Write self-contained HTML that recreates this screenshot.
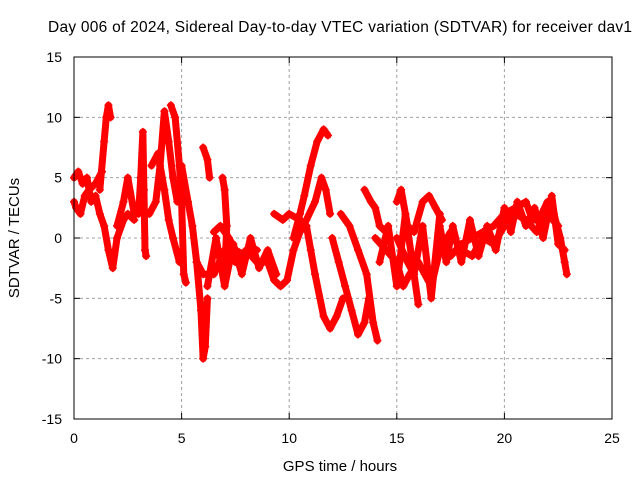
<!DOCTYPE html>
<html><head><meta charset="utf-8"><style>
body{margin:0;background:#fff;}
svg{display:block;font-family:"Liberation Sans",sans-serif;}
</style></head><body>
<svg id="chart" width="640" height="480">
<text x="340" y="32" font-size="15.5" text-anchor="middle" textLength="584">Day 006 of 2024, Sidereal Day-to-day VTEC variation (SDTVAR) for receiver dav1</text>
<text x="340" y="471" font-size="15" text-anchor="middle">GPS time / hours</text>
<text transform="translate(19,238) rotate(-90)" font-size="15" text-anchor="middle">SDTVAR / TECUs</text>
<g id="grid"></g><g id="marks"></g>
<rect x="74" y="57" width="538" height="362" fill="none" stroke="#000" stroke-width="1"/>
</svg>
<script>
const xTicks=[0,5,10,15,20,25];
const yTicks=[-15,-10,-5,0,5,10,15];
const series=[
[[0,5],[0.2,5.5],[0.4,4.5],[0.6,5],[0.8,3],[1.0,3.5],[1.2,2],[1.4,1],[1.6,-1],[1.8,-2.5],[2.0,0],[2.3,1.5],[2.5,2],[2.8,1.5]],
[[0,3],[0.1,2.5],[0.3,2],[0.5,3.5],[0.7,4],[1,4.5],[1.3,5.5]],
[[1.2,4],[1.4,8],[1.5,10],[1.6,11],[1.7,10]],
[[2.0,1],[2.3,3],[2.5,5],[2.8,2],[3.0,2],[3.1,5],[3.2,8.8],[3.25,4],[3.3,-1],[3.35,-1.5]],
[[3.5,2],[3.8,3],[4.0,6],[4.2,10.5],[4.4,8],[4.6,5],[4.8,3]],
[[4.5,11],[4.7,10],[4.9,6],[5.0,3],[5.1,-3],[5.2,-3.7]],
[[3.6,6],[3.9,7],[4.2,4],[4.4,1.5],[4.6,0],[4.9,-2]],
[[5.0,6],[5.3,3],[5.5,1],[5.7,-2],[5.9,-6],[6.0,-10],[6.1,-9],[6.2,-5]],
[[6.0,7.5],[6.2,6.5],[6.3,5]],
[[6.9,5],[7.0,4],[7.1,1],[7.0,-3]],
[[5.7,-2],[6.0,-3],[6.5,-3],[7.0,-1],[7.5,-2],[8.0,-1],[8.5,-2],[9.0,-2],[9.3,-3.5],[9.6,-4],[9.9,-3.5],[10.2,-1],[10.5,0.5],[10.8,1.5],[11.2,3],[11.5,5],[11.7,4],[11.9,2]],
[[6.5,0.5],[6.8,1],[7.2,0],[7.5,-1],[8,-1.5],[8.5,-1]],
[[6.2,-4],[6.6,0],[7,-4],[7.4,-0.5],[7.8,-3],[8.2,0],[8.6,-2.5],[9,-1],[9.4,-3]],
[[9.3,2],[9.7,1.5],[10,2],[10.5,1.5],[10.8,1]],
[[10.2,0],[10.5,2],[10.7,3.5],[11.0,6],[11.3,8],[11.6,9],[11.8,8.5]],
[[10.8,1],[11.0,-1],[11.2,-3],[11.6,-6.5],[11.9,-7.5],[12.2,-6.5],[12.5,-5]],
[[12.0,0],[12.3,-2],[12.6,-4],[12.9,-6],[13.2,-8],[13.5,-7],[13.7,-5]],
[[12.4,2],[12.8,1],[13.2,-1],[13.6,-3],[13.9,-7],[14.1,-8.5]],
[[13.5,4],[13.8,3],[14.0,2.5],[14.2,1],[14.5,0.5]],
[[14.0,0],[14.5,-1],[15.0,-2],[15.3,-4],[15.6,-3],[16.0,-2],[16.3,-3],[16.6,-4],[17,-1]],
[[14.2,-2],[14.6,1],[15,-4],[15.4,2],[15.8,-3],[16.2,1],[16.6,-5],[17,2]],
[[15.0,3],[15.2,4],[15.5,1],[15.8,0.5],[16.2,3],[16.5,3.5],[16.8,2.5],[17.1,1.5]],
[[15.0,0],[15.5,-2],[15.8,-3],[16.0,-5.5]],
[[17,0],[17.5,-1.5],[18,-0.5],[18.5,0],[19,0.5],[19.5,1],[20,2.0],[20.5,2.5],[21.0,3],[21.3,1.5],[21.6,1.5],[22.0,3],[22.3,2],[22.6,0],[22.8,-2],[22.9,-3]],
[[17,-1],[17.5,0.5],[18,-1],[18.5,-1.5],[19,0],[19.5,-0.5],[20,1],[20.5,2],[21,1.5],[21.5,0.5],[22,2],[22.5,1]],
[[17,1],[17.3,-2],[17.6,1],[18,-2],[18.4,1.5],[18.8,-1.5],[19.2,1],[19.6,-1],[20,2.5],[20.3,0.5],[20.6,3],[21,1],[21.4,2.5],[21.8,0],[22.2,3.5],[22.5,-0.5],[22.8,-1]]
];
const X0=74,X1=612,Y0=419,Y1=57;
const xs=v=>X0+(v-0)/25*(X1-X0);
const ys=v=>Y0-(v+15)/30*(Y0-Y1);
const NS="http://www.w3.org/2000/svg";
const grid=document.getElementById('grid'),marks=document.getElementById('marks'),svg=document.getElementById('chart');
function mk(t,a,p){const e=document.createElementNS(NS,t);for(const k in a)e.setAttribute(k,a[k]);p.appendChild(e);return e;}
xTicks.forEach(t=>{const x=xs(t);
 if(t>0&&t<25){const l=mk('line',{x1:x,x2:x,y1:Y1,y2:Y0,stroke:'#a0a0a0','stroke-dasharray':'3,3'},grid);
 
 }
 mk('line',{x1:x,x2:x,y1:Y0,y2:Y0-6,stroke:'#000'},grid);mk('line',{x1:x,x2:x,y1:Y1,y2:Y1+6,stroke:'#000'},grid);
 const tx=mk('text',{x:x,y:443,'font-size':14,'text-anchor':'middle'},svg);tx.textContent=t;
 
 });
yTicks.forEach(t=>{const y=ys(t);
 if(t>-15&&t<15){const l=mk('line',{x1:X0,x2:X1,y1:y,y2:y,stroke:'#a0a0a0','stroke-dasharray':'3,3'},grid);
 
 }
 mk('line',{x1:X0,x2:X0+6,y1:y,y2:y,stroke:'#000'},grid);mk('line',{x1:X1,x2:X1-6,y1:y,y2:y,stroke:'#000'},grid);
 const tx=mk('text',{x:62,y:y+5,'font-size':14,'text-anchor':'end'},svg);tx.textContent=t;
 
 });
series.forEach((s,i)=>{
 const pts=s.map(p=>xs(p[0])+','+ys(p[1])).join(' ');
 const pl=mk('polyline',{points:pts,fill:'none',stroke:'#ff0000','stroke-width':7,'stroke-linejoin':'round','stroke-linecap':'round'},marks);
 
 
 let d='';s.forEach(p=>{const x=xs(p[0]),y=ys(p[1]);d+=`M${x-4},${y}h8M${x},${y-4}v8`;});
 const m=mk('path',{d:d,stroke:'#ff0000','stroke-width':1.5,fill:'none'},marks);
 
 
});
</script>
</body></html>
